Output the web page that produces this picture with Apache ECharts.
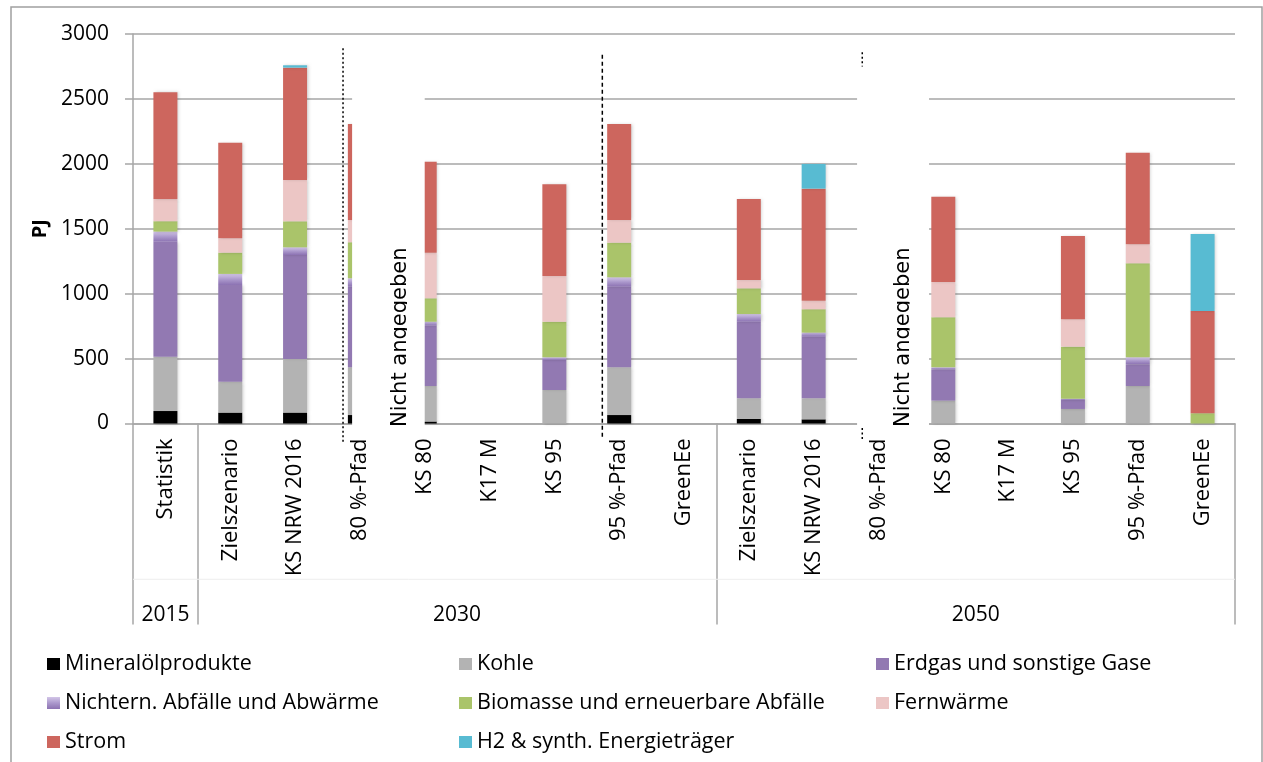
<!doctype html>
<html lang="de">
<head>
    <meta charset="UTF-8">
    <title>Endenergieverbrauch</title>
    <script src="https://cdn.jsdelivr.net/npm/echarts@6/dist/echarts.min.js"></script>
    <style>html, body { margin: 0; padding: 0; background: #fff; }</style>
</head>
<body>
<div id="chart" style="width: 1263px; height: 762px;"></div>
<script>
    // Kategorien (Szenarien) und Gruppen (Jahre)
    var categories = ['Statistik', 'Zielszenario', 'KS NRW 2016', '80 %-Pfad', 'KS 80', 'K17 M', 'KS 95', '95 %-Pfad', 'GreenEe',
        'Zielszenario', 'KS NRW 2016', '80 %-Pfad', 'KS 80', 'K17 M', 'KS 95', '95 %-Pfad', 'GreenEe'];
    var groupNames = ['2015', '2030', '2050'];
    var groupCenters = [0.5, 5, 13];
    var groupBounds = [0, 1, 9, 17];
    var yTicks = [0, 500, 1000, 1500, 2000, 2500, 3000];
    var hinweis = 'Nicht angegeben';

    // Werte in PJ
    var mineraloel = [96, 84, 84, 65, 15, null, null, 65, null, 35, 32, null, null, null, null, null, null];
    var kohle = [418, 238, 413, 368, 274, null, 258, 368, null, 159, 162, null, 176, null, 112, 289, null];
    var erdgas = [886, 745, 801, 621, 465, null, 231, 621, null, 590, 475, null, 241, null, 69, 167, null];
    var nichtern = [78, 85, 59, 64, 30, null, 21, 72, null, 59, 31, null, 16, null, 10, 54, null];
    var biomasse = [80, 164, 200, 278, 180, null, 274, 267, null, 198, 180, null, 385, null, 401, 724, 79];
    var fernwaerme = [172, 110, 319, 172, 352, null, 352, 175, null, 64, 66, null, 272, null, 211, 146, null];
    var strom = [822, 737, 865, 739, 701, null, 707, 739, null, 624, 863, null, 657, null, 641, 706, 788];
    var h2 = [null, null, 18, null, null, null, null, null, null, null, 190, null, null, null, null, null, 593];

    var chart = echarts.init(document.getElementById('chart'));
    var font = 'Open Sans';
    var grau = '#a6a6a6';

    function bar(name, data, color) {
        return {
            name: name,
            type: 'bar',
            stack: 'summe',
            barWidth: '37%',
            data: data,
            itemStyle: {color: color, shadowBlur: 3, shadowOffsetX: 1.5, shadowColor: 'rgba(0,0,0,0.18)'},
            emphasis: {disabled: true}
        };
    }

    var lila = new echarts.graphic.LinearGradient(0, 0, 0, 1, [
        {offset: 0, color: '#d3c6e8'},
        {offset: 0.5, color: '#ab98cc'},
        {offset: 1, color: '#8c72b2'}
    ]);

    function legendCol(left, names) {
        return {
            orient: 'vertical',
            left: left,
            top: 652,
            padding: 0,
            itemWidth: 13,
            itemHeight: 12,
            itemGap: 15,
            icon: 'rect',
            selectedMode: false,
            itemStyle: {shadowBlur: 0, shadowOffsetX: 0},
            textStyle: {fontFamily: font, fontSize: 21.5, color: '#000', lineHeight: 24},
            data: names
        };
    }

    var option = {
        animation: false,
        backgroundColor: '#fff',
        grid: {left: 133, right: 28, top: 34, bottom: 338.5},
        legend: [
            legendCol(47, ['Mineralölprodukte', 'Nichtern. Abfälle und Abwärme', 'Strom']),
            legendCol(459, ['Kohle', 'Biomasse und erneuerbare Abfälle', 'H2 & synth. Energieträger']),
            legendCol(876, ['Erdgas und sonstige Gase', 'Fernwärme'])
        ],
        xAxis: [
            {
                type: 'category',
                data: categories,
                axisLine: {lineStyle: {color: grau, width: 1.5}},
                axisTick: {show: false},
                axisLabel: {rotate: 90, interval: 0, margin: 15, fontFamily: font, fontSize: 22, color: '#000'}
            },
            {
                type: 'value',
                min: 0,
                max: 17,
                position: 'bottom',
                axisLine: {show: false},
                splitLine: {show: false},
                axisTick: {show: true, customValues: groupBounds, length: 201, lineStyle: {color: grau, width: 1.5}},
                axisLabel: {
                    customValues: groupCenters,
                    margin: 181,
                    fontFamily: font,
                    fontSize: 21,
                    color: '#000',
                    formatter: function (v) {
                        return groupNames[groupCenters.indexOf(v)];
                    }
                }
            }
        ],
        yAxis: {
            type: 'value',
            min: yTicks[0],
            max: yTicks[yTicks.length - 1],
            interval: 500,
            name: 'PJ',
            nameLocation: 'middle',
            nameRotate: 90,
            nameGap: 80,
            nameTextStyle: {fontFamily: font, fontSize: 20, fontWeight: 'bold', color: '#000'},
            axisLine: {show: true, lineStyle: {color: grau, width: 1.5}},
            axisTick: {show: true, length: 8, lineStyle: {color: grau, width: 1.5}},
            axisLabel: {
                margin: 24, fontFamily: font, fontSize: 21, color: '#000',
                formatter: function (v) { return String(v); }
            },
            splitLine: {lineStyle: {color: grau, width: 1.5}}
        },
        series: [
            bar('Mineralölprodukte', mineraloel, '#000000'),
            bar('Kohle', kohle, '#b3b3b3'),
            bar('Erdgas und sonstige Gase', erdgas, '#9279b2'),
            bar('Nichtern. Abfälle und Abwärme', nichtern, lila),
            bar('Biomasse und erneuerbare Abfälle', biomasse, '#aac46a'),
            bar('Fernwärme', fernwaerme, '#ecc6c5'),
            bar('Strom', strom, '#cd665e'),
            bar('H2 & synth. Energieträger', h2, '#58bbd2')
        ]
    };

    chart.setOption(option);

    // Überlagerungen aus der Originalgrafik (verdeckte Bereiche, Trennlinien, Hinweise)
    function gx(v) { return chart.convertToPixel({xAxisIndex: 1}, v); }
    function gy(v) { return chart.convertToPixel({yAxisIndex: 0}, v); }

    function whiteBox(x0, x1, yTop, yBottom) {
        return {
            type: 'rect', z: 50,
            shape: {x: gx(x0), y: gy(yTop), width: gx(x1) - gx(x0), height: gy(yBottom) - gy(yTop)},
            style: {fill: '#fff'}
        };
    }
    function vline(x, y0, y1, dash) {
        return {
            type: 'line', z: 60,
            shape: {x1: gx(x), y1: gy(y0), x2: gx(x), y2: gy(y1)},
            style: {stroke: '#000', lineWidth: 1.5, lineDash: dash}
        };
    }
    // Hinweistext, rechts (Unterlängen) abgeschnitten wie im Original
    function note(clipAt, boxEnd) {
        var cx = gx(clipAt);
        return [
            {
                type: 'text', z: 55, rotation: Math.PI / 2,
                x: cx + 4, y: gy(-27),
                style: {text: hinweis, font: '21px "DejaVu Sans"', fill: '#000', align: 'left', verticalAlign: 'bottom'}
            },
            {
                type: 'rect', z: 56,
                shape: {x: cx, y: gy(1700), width: gx(boxEnd) - cx, height: gy(-40) - gy(1700)},
                style: {fill: '#fff'}
            }
        ];
    }

    var rahmen = {
        type: 'rect', z: 70,
        shape: {x: 11, y: 7, width: 1251, height: 800},
        style: {fill: null, stroke: '#a0a0a0', lineWidth: 1.5}
    };

    chart.setOption({
        graphic: [
            rahmen,
            whiteBox(3.38, 4.5, 2975, -55),
            whiteBox(11.17, 12.28, 2975, -65),
            vline(3.24, 2890, -150, [2, 2.5]),
            vline(7.24, 2840, -110, [4, 3]),
            vline(11.25, 2860, 2750, [2, 2.5]),
            vline(11.25, -35, -130, [2, 2.5]),
            {
                type: 'line', z: 10,
                shape: {x1: gx(0), y1: gy(-1200), x2: gx(17), y2: gy(-1200)},
                style: {stroke: '#eeeeee', lineWidth: 1}
            }
        ].concat(note(4.227, 4.49)).concat(note(11.98, 12.27))
    });
</script>
</body>
</html>
